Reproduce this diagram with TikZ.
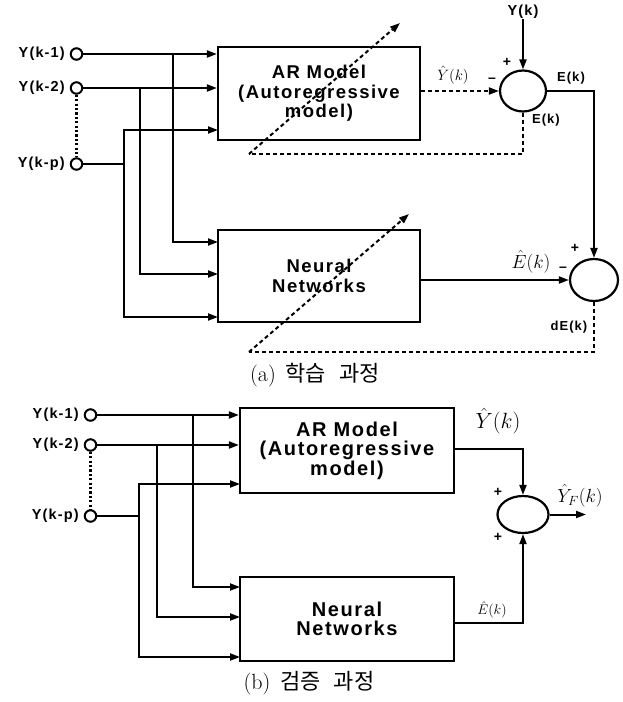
\RequirePackage{fix-cm}
\documentclass[tikz,border=0pt]{standalone}
\usepackage{fontspec}
\usetikzlibrary{arrows.meta,shapes.geometric}
\newfontfamily\lblf{Liberation Sans}[LetterSpace=8]
\newfontfamily\krf{Noto Sans CJK KR}
\begin{document}
\begin{tikzpicture}[x=1pt,y=-1pt,
  ln/.style={line width=2pt},
  arr/.style={ln,-{Triangle[length=10pt,width=7pt]}},
  dsh/.style={ln,dash pattern=on 4pt off 3pt},
  darr/.style={dsh,-{Triangle[length=10pt,width=7pt]}},
  dotl/.style={line width=2.2pt,dash pattern=on 2.2pt off 2.2pt},
  box/.style={draw,line width=2.2pt,align=center,inner sep=0pt,font=\lblf\bfseries\fontsize{18.5}{19.5}\selectfont},
  boxb/.style={box,font=\lblf\bfseries\fontsize{20}{19.5}\selectfont},
  sumn/.style={draw,ellipse,line width=2.2pt,inner sep=0pt},
  inp/.style={draw,circle,line width=2pt,minimum size=11.5pt,inner sep=0pt,fill=white},
  lbl/.style={font=\lblf\bfseries\fontsize{14.5}{16}\selectfont,inner sep=0pt},
  slbl/.style={font=\lblf\bfseries\fontsize{13}{14}\selectfont,inner sep=0pt},
  sgn/.style={font=\lblf\bfseries\fontsize{14}{15}\selectfont,inner sep=0pt},
  captxt/.style={font=\fontsize{22}{24}\selectfont,inner sep=0pt}
]
\useasboundingbox (0,0) rectangle (622,702);

% ================= (a) =================
\node[inp] (a1) at (76.5,54) {};
\node[inp] (a2) at (76.5,88) {};
\node[inp] (ap) at (76.5,164) {};
\node[lbl,anchor=east] (a1t) at (65,54) {Y(k-1)};
\node[lbl,anchor=east] (a2t) at (65,88) {Y(k-2)};
\node[lbl,anchor=east] (apt) at (65,164) {Y(k-p)};
\draw[dotl] (a2) -- (ap);

\node[box,minimum width=202pt,minimum height=93pt] (ar) at (319,93.5) {AR Model\\(Autoregressive\\model)};
\node[box,minimum width=202pt,minimum height=92pt] (nn) at (319,276) {Neural\\Networks};

\coordinate (j1) at (173,54);
\coordinate (j2) at (140,88);
\coordinate (j3) at (124,164);
\coordinate (ai3) at (218,130);
\coordinate (ni1) at (218,242);
\coordinate (ni2) at (218,274);
\coordinate (ni3) at (218,317);

\draw[arr] (a1) -- (ar.west |- a1);
\draw[arr] (a2) -- (ar.west |- a2);
\draw[ln] (ap) -- (j3);
\draw[arr] (j3) |- (ai3);
\draw[arr] (j1) |- (ni1);
\draw[arr] (j2) |- (ni2);
\draw[arr] (j3) |- (ni3);

\node[sumn,minimum width=46pt,minimum height=41pt] (s1) at (523,91) {};
\node[lbl] (yk) at (523,12) {Y(k)};
\draw[arr] (yk) -- (s1);
\draw[darr] (ar.east |- s1) -- (s1);
\node[inner sep=0pt,font=\fontsize{15}{16}\selectfont] (yh1) at (453,75) {$\hat{Y}(k)$};
\node[sgn] (m1) at (492,80) {–};
\node[sgn] (p1) at (507,62) {+};
\node[slbl] (e1) at (571,78) {E(k)};
\node[slbl] (e2) at (546,120) {E(k)};

\node[sumn,minimum width=48pt,minimum height=42pt] (s2) at (594,280) {};
\draw[arr] (s1) -| (s2);
\coordinate (f1) at (249,154);
\coordinate (f1t) at (400,23);
\draw[dsh] (s1) |- (f1);
\draw[darr] (f1) -- (f1t);

\draw[arr] (nn.east |- s2) -- (s2);
\node[inner sep=0pt,font=\fontsize{19}{20}\selectfont] (eh1) at (531,262) {$\hat{E}(k)$};
\node[sgn] (m2) at (563,269) {–};
\node[sgn] (p2) at (575,248) {+};
\node[slbl] (de) at (569,327) {dE(k)};
\coordinate (f2) at (249,352);
\coordinate (f2t) at (409,214);
\draw[dsh] (s2) |- (f2);
\draw[darr] (f2) -- (f2t);

\node[captxt] (capa) at (315,375) {(a)\hspace{0.45em}{\krf 학습\hspace{0.6em}과정}};

% ================= (b) =================
\node[inp] (b1) at (90.5,415) {};
\node[inp] (b2) at (90.5,445) {};
\node[inp] (bp) at (90.5,516) {};
\node[lbl,anchor=east] (b1t) at (79,415) {Y(k-1)};
\node[lbl,anchor=east] (b2t) at (79,445) {Y(k-2)};
\node[lbl,anchor=east] (bpt) at (79,516) {Y(k-p)};
\draw[dotl] (b2) -- (bp);

\node[boxb,minimum width=214pt,minimum height=85pt] (ar2) at (347,450.5) {AR Model\\(Autoregressive\\model)};
\node[boxb,minimum width=214pt,minimum height=84pt] (nn2) at (347,619) {Neural\\Networks};

\coordinate (k1) at (193,415);
\coordinate (k2) at (157,445);
\coordinate (k3) at (139,516);
\coordinate (bi3) at (240,484);
\coordinate (mi1) at (240,587);
\coordinate (mi2) at (240,617);
\coordinate (mi3) at (240,657);

\draw[arr] (b1) -- (ar2.west |- b1);
\draw[arr] (b2) -- (ar2.west |- b2);
\draw[ln] (bp) -- (k3);
\draw[arr] (k3) |- (bi3);
\draw[arr] (k1) |- (mi1);
\draw[arr] (k2) |- (mi2);
\draw[arr] (k3) |- (mi3);

\node[sumn,minimum width=51pt,minimum height=37pt] (s3) at (523,514.5) {};
\draw[arr] ([yshift=1.5pt]ar2.east) -| (s3);
\draw[arr] ([yshift=-4pt]nn2.east) -| (s3);
\coordinate (out) at (586,514.5);
\draw[arr] (s3) -- (out);
\node[inner sep=0pt,font=\fontsize{22}{24}\selectfont] (yh2) at (498,421) {$\hat{Y}(k)$};
\node[inner sep=0pt,font=\fontsize{19}{20}\selectfont] (yf) at (580,496) {$\hat{Y}_F(k)$};
\node[sgn] (p3) at (498,492) {+};
\node[sgn] (p4) at (498,537) {+};
\node[inner sep=0pt,font=\fontsize{14}{15}\selectfont] (eh2) at (492,610) {$\hat{E}(k)$};

\node[captxt] (capb) at (309,683) {(b)\hspace{0.45em}{\krf 검증\hspace{0.6em}과정}};
\end{tikzpicture}
\end{document}
